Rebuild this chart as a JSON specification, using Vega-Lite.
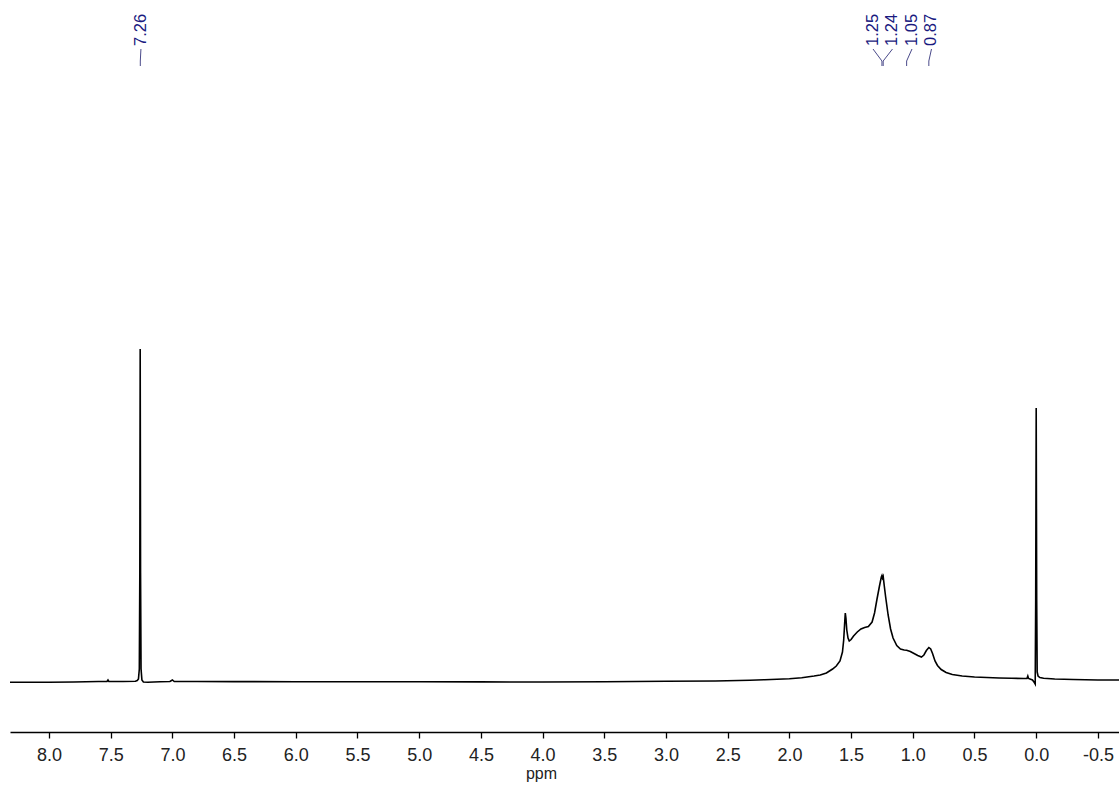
{
  "$schema": "https://vega.github.io/schema/vega-lite/v6.json",
  "width": 1109,
  "height": 732,
  "autosize": {"type": "none"},
  "padding": {"left": 10, "top": 0, "right": 0, "bottom": 53},
  "background": "white",
  "config": {"view": {"stroke": null}, "font": "Liberation Sans"},
  "datasets": {
    "spectrum": [
      {"ppm": 8.316, "int": 0.7}, {"ppm": 8.0, "int": 0.8}, {"ppm": 7.8, "int": 1.0}, {"ppm": 7.6, "int": 1.5},
      {"ppm": 7.53, "int": 1.5}, {"ppm": 7.522, "int": 3.0}, {"ppm": 7.515, "int": 1.5}, {"ppm": 7.4, "int": 1.5},
      {"ppm": 7.3, "int": 1.8}, {"ppm": 7.285, "int": 2.5}, {"ppm": 7.275, "int": 4}, {"ppm": 7.268, "int": 14},
      {"ppm": 7.264, "int": 110}, {"ppm": 7.261, "int": 334}, {"ppm": 7.258, "int": 110}, {"ppm": 7.254, "int": 14},
      {"ppm": 7.247, "int": 3}, {"ppm": 7.235, "int": 1.0}, {"ppm": 7.2, "int": 0.8}, {"ppm": 7.1, "int": 1.2},
      {"ppm": 7.02, "int": 1.5}, {"ppm": 7.0, "int": 3.0}, {"ppm": 6.985, "int": 1.5}, {"ppm": 6.8, "int": 1.5},
      {"ppm": 6.5, "int": 1.4}, {"ppm": 6.0, "int": 1.3}, {"ppm": 5.5, "int": 1.2}, {"ppm": 5.0, "int": 1.2},
      {"ppm": 4.5, "int": 1.1}, {"ppm": 4.0, "int": 1.0}, {"ppm": 3.5, "int": 1.2}, {"ppm": 3.0, "int": 1.7},
      {"ppm": 2.6, "int": 2.0}, {"ppm": 2.32, "int": 2.7}, {"ppm": 2.2, "int": 3.3}, {"ppm": 2.0, "int": 4.3},
      {"ppm": 1.9, "int": 5.3}, {"ppm": 1.8, "int": 7}, {"ppm": 1.75, "int": 8}, {"ppm": 1.7, "int": 10},
      {"ppm": 1.65, "int": 14}, {"ppm": 1.62, "int": 17}, {"ppm": 1.59, "int": 22}, {"ppm": 1.57, "int": 31},
      {"ppm": 1.56, "int": 43}, {"ppm": 1.553, "int": 58}, {"ppm": 1.547, "int": 70}, {"ppm": 1.542, "int": 65},
      {"ppm": 1.535, "int": 53}, {"ppm": 1.525, "int": 45}, {"ppm": 1.515, "int": 42}, {"ppm": 1.5, "int": 43.5},
      {"ppm": 1.48, "int": 47}, {"ppm": 1.45, "int": 51}, {"ppm": 1.42, "int": 54}, {"ppm": 1.39, "int": 55.5},
      {"ppm": 1.36, "int": 56.5}, {"ppm": 1.33, "int": 61}, {"ppm": 1.31, "int": 70}, {"ppm": 1.29, "int": 84},
      {"ppm": 1.27, "int": 97}, {"ppm": 1.255, "int": 106}, {"ppm": 1.25, "int": 107.5}, {"ppm": 1.245, "int": 105},
      {"ppm": 1.24, "int": 106.5}, {"ppm": 1.232, "int": 98}, {"ppm": 1.22, "int": 86}, {"ppm": 1.2, "int": 68},
      {"ppm": 1.18, "int": 54}, {"ppm": 1.16, "int": 45}, {"ppm": 1.13, "int": 37.5}, {"ppm": 1.1, "int": 34},
      {"ppm": 1.07, "int": 33}, {"ppm": 1.05, "int": 32.7}, {"ppm": 1.02, "int": 31.5}, {"ppm": 0.99, "int": 29.5},
      {"ppm": 0.96, "int": 27.5}, {"ppm": 0.93, "int": 26}, {"ppm": 0.91, "int": 28}, {"ppm": 0.89, "int": 32.5},
      {"ppm": 0.87, "int": 35.5}, {"ppm": 0.855, "int": 34}, {"ppm": 0.84, "int": 29.5}, {"ppm": 0.82, "int": 22},
      {"ppm": 0.8, "int": 17.5}, {"ppm": 0.77, "int": 13.5}, {"ppm": 0.73, "int": 10.5}, {"ppm": 0.68, "int": 8.5},
      {"ppm": 0.6, "int": 7}, {"ppm": 0.5, "int": 6}, {"ppm": 0.4, "int": 5.5}, {"ppm": 0.3, "int": 5},
      {"ppm": 0.2, "int": 4.7}, {"ppm": 0.1, "int": 4.5}, {"ppm": 0.075, "int": 4.5}, {"ppm": 0.068, "int": 7},
      {"ppm": 0.062, "int": 4.5}, {"ppm": 0.03, "int": 3}, {"ppm": 0.015, "int": 0.5}, {"ppm": 0.008, "int": -1},
      {"ppm": 0.004, "int": 83}, {"ppm": 0.0, "int": 275}, {"ppm": -0.004, "int": 83}, {"ppm": -0.008, "int": 11},
      {"ppm": -0.015, "int": 7}, {"ppm": -0.03, "int": 5.5}, {"ppm": -0.06, "int": 4.7}, {"ppm": -0.15, "int": 4},
      {"ppm": -0.3, "int": 3.5}, {"ppm": -0.5, "int": 3}, {"ppm": -0.671, "int": 3}
    ],
    "labels": [
      {"label": "7.26", "shift": 7.26, "pos": 7.255},
      {"label": "1.25", "shift": 1.25, "pos": 1.3225},
      {"label": "1.24", "shift": 1.24, "pos": 1.1645},
      {"label": "1.05", "shift": 1.05, "pos": 1.0065},
      {"label": "0.87", "shift": 0.87, "pos": 0.8485}
    ]
  },
  "layer": [
    {
      "data": {"name": "spectrum"},
      "mark": {"type": "line", "color": "#000000", "strokeWidth": 1.6, "interpolate": "linear"},
      "encoding": {
        "x": {
          "field": "ppm", "type": "quantitative",
          "scale": {"domain": [-0.671, 8.316], "reverse": true, "nice": false, "zero": false},
          "axis": {
            "title": "ppm",
            "values": [8.25, 8.0, 7.75, 7.5, 7.25, 7.0, 6.75, 6.5, 6.25, 6.0, 5.75, 5.5, 5.25, 5.0, 4.75, 4.5, 4.25, 4.0, 3.75, 3.5, 3.25, 3.0, 2.75, 2.5, 2.25, 2.0, 1.75, 1.5, 1.25, 1.0, 0.75, 0.5, 0.25, 0.0, -0.25, -0.5],
            "labelExpr": "abs(datum.value*2 - round(datum.value*2)) < 0.01 ? replace(format(datum.value, '.1f'), '\u2212', '-') : ''",
            "labelOverlap": false,
            "labelFont": "Liberation Sans",
            "labelFontSize": 18,
            "labelColor": "#222222",
            "labelPadding": 8,
            "labelFlush": false,
            "grid": false,
            "domainColor": "#000000",
            "domainWidth": 1.3,
            "tickColor": "#000000",
            "tickWidth": 1.3,
            "tickSize": {"condition": {"test": "abs(datum.value*2 - round(datum.value*2)) < 0.01", "value": 6}, "value": 3.5},
            "titleFont": "Liberation Sans",
            "titleFontSize": 16,
            "titleFontWeight": "normal",
            "titleColor": "#222222",
            "titleX": 531,
            "titleY": 46,
            "titleAlign": "center",
            "titleBaseline": "alphabetic"
          }
        },
        "y": {
          "field": "int", "type": "quantitative",
          "scale": {"domain": [-49, 683], "nice": false, "zero": false},
          "axis": null
        }
      }
    },
    {
      "data": {"name": "labels"},
      "mark": {"type": "text", "angle": 270, "align": "left", "baseline": "middle", "font": "Liberation Sans", "fontSize": 16.5, "color": "#1a1a80"},
      "encoding": {
        "x": {"field": "pos", "type": "quantitative"},
        "y": {"datum": 637, "type": "quantitative"},
        "text": {"field": "label"}
      }
    },
    {
      "data": {"name": "labels"},
      "mark": {"type": "rule", "color": "#4a4a8a", "strokeWidth": 1},
      "encoding": {
        "x": {"field": "pos", "type": "quantitative"},
        "x2": {"field": "shift"},
        "y": {"datum": 634, "type": "quantitative"},
        "y2": {"datum": 622}
      }
    },
    {
      "data": {"name": "labels"},
      "mark": {"type": "rule", "color": "#4a4a8a", "strokeWidth": 1},
      "encoding": {
        "x": {"field": "shift", "type": "quantitative"},
        "y": {"datum": 622, "type": "quantitative"},
        "y2": {"datum": 617}
      }
    }
  ]
}
